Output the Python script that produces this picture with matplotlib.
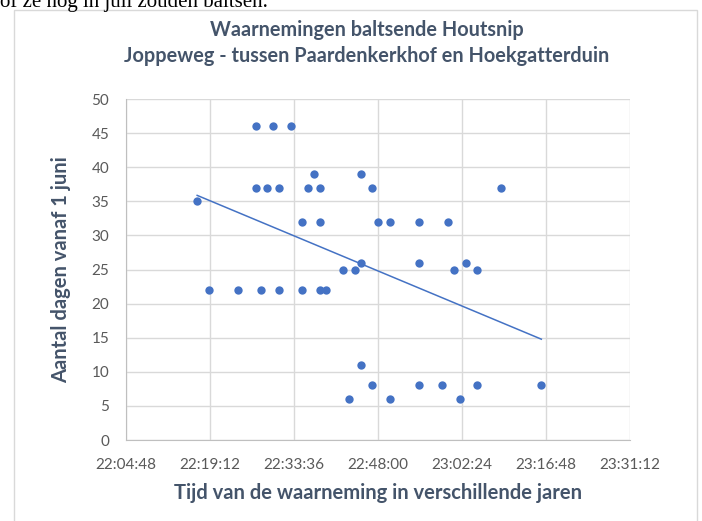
import matplotlib.pyplot as plt
import matplotlib.patches as patches
import numpy as np

# observation times (hh:mm) and days after 1 June
times = ["22:17", "22:19", "22:24", "22:27", "22:27", "22:28", "22:29", "22:30",
         "22:31", "22:31", "22:33", "22:35", "22:35", "22:36", "22:37", "22:38",
         "22:38", "22:38", "22:39", "22:42", "22:43", "22:44", "22:45", "22:45",
         "22:45", "22:47", "22:47", "22:48", "22:50", "22:50", "22:55", "22:55",
         "22:55", "22:59", "23:00", "23:01", "23:02", "23:03", "23:05", "23:05",
         "23:09", "23:16"]
days = [35, 22, 22, 46, 37, 22, 37, 46,
        37, 22, 46, 22, 32, 37, 39, 37,
        32, 22, 22, 25, 6, 25, 39, 26,
        11, 37, 8, 32, 32, 6, 32, 26,
        8, 8, 32, 25, 6, 26, 25, 8,
        37, 8]
xtick_labels = ["22:04:48", "22:19:12", "22:33:36", "22:48:00",
                "23:02:24", "23:16:48", "23:31:12"]

def to_sec(s):
    parts = [int(p) for p in s.split(":")]
    while len(parts) < 3:
        parts.append(0)
    return parts[0] * 3600 + parts[1] * 60 + parts[2]

x = np.array([to_sec(t) for t in times], dtype=float)
y = np.array(days, dtype=float)
xticks = [to_sec(t) for t in xtick_labels]

blue = "#4472C4"
title_col = "#44546A"
tick_col = "#595959"
grid_col = "#D9D9D9"
font = "Lato"

fig = plt.figure(figsize=(7.02, 5.21), dpi=100)

# page text cut off at the top
fig.text(0.0, 1 - 7 / 521, "of ze nog in juli zouden baltsen.", family="Liberation Serif",
         fontsize=15, va="baseline", ha="left", color="black")

# chart border
fig.patches.append(patches.Rectangle((14 / 702, -0.01), (697 - 14) / 702, 1 - 10 / 521 + 0.01,
                                     transform=fig.transFigure, fill=False,
                                     edgecolor=grid_col, linewidth=1))

ax = fig.add_axes([126 / 702, 1 - 440 / 521, 504 / 702, 341 / 521])
ax.scatter(x, y, s=36, color=blue, zorder=3, linewidths=0)

# linear trendline
k, b = np.polyfit(x, y, 1)
xl = np.array([x.min(), x.max()])
ax.plot(xl, k * xl + b, color=blue, linewidth=1.1, zorder=2)

ax.set_xlim(xticks[0], xticks[-1])
ax.set_ylim(0, 50)
ax.set_xticks(xticks)
ax.set_xticklabels(xtick_labels)
ax.set_yticks(range(0, 51, 5))
ax.grid(True, color=grid_col, linewidth=1)
ax.set_axisbelow(True)
for s in ["top", "right"]:
    ax.spines[s].set_visible(False)
for s in ["left", "bottom"]:
    ax.spines[s].set_color("#BFBFBF")
ax.tick_params(length=0, labelsize=11, colors=tick_col)
ax.tick_params(axis="x", pad=13)
ax.tick_params(axis="y", pad=12)
for lab in ax.get_xticklabels() + ax.get_yticklabels():
    lab.set_family(font)

ax.set_xlabel("Tijd van de waarneming in verschillende jaren", family=font,
              fontsize=14.5, fontweight="bold", color=title_col, labelpad=8)
ax.set_ylabel("Aantal dagen vanaf 1 juni", family=font, fontsize=14.5,
              fontweight="bold", color=title_col, labelpad=15)

fig.text(367 / 702, 1 - 30 / 521, "Waarnemingen baltsende Houtsnip", family=font,
         fontsize=14.3, fontweight="bold", color=title_col, ha="center", va="center")
fig.text(367 / 702, 1 - 56 / 521, "Joppeweg - tussen Paardenkerkhof en Hoekgatterduin",
         family=font, fontsize=14.3, fontweight="bold", color=title_col,
         ha="center", va="center")

fig.savefig("out.png", dpi=100)
